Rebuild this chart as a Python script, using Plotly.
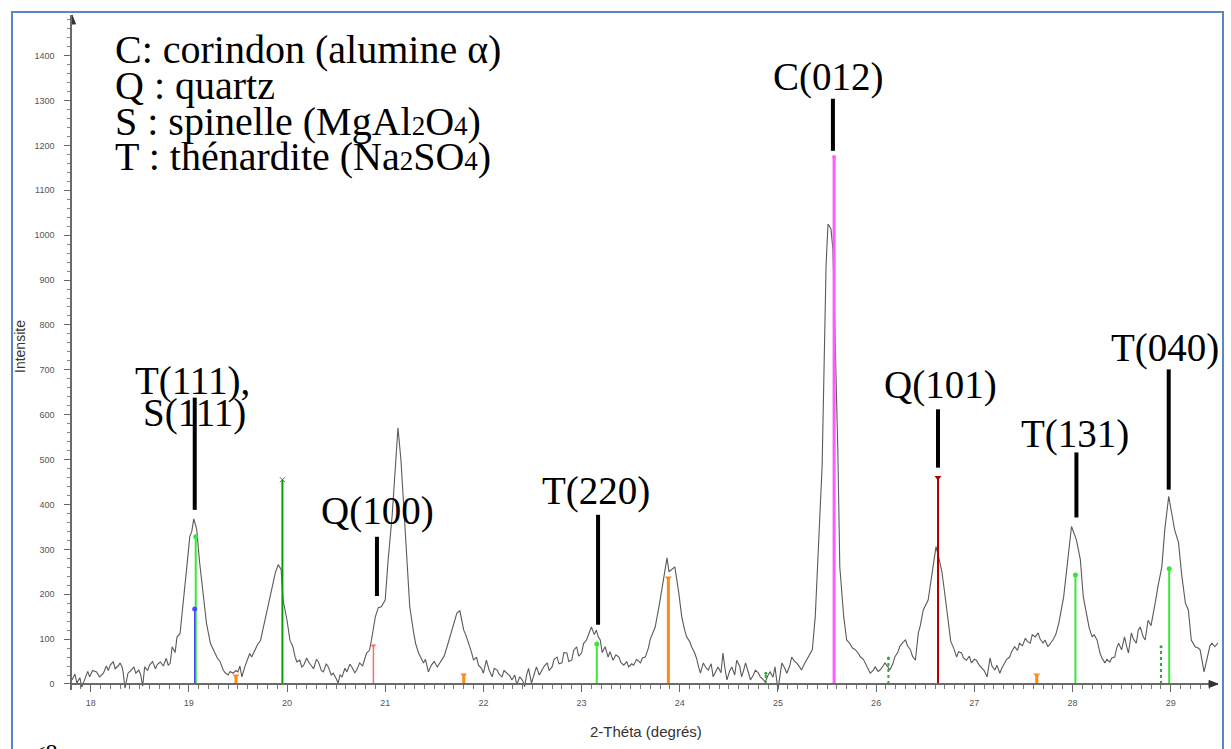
import plotly.graph_objects as go

# Diffractogram (2-theta in degrees, counts)
two_theta = [
    17.81, 17.84, 17.86, 17.89, 17.91, 17.94, 17.97, 17.99, 18.02, 18.06, 18.09, 18.13, 18.16, 18.18,
    18.20, 18.23, 18.25, 18.28, 18.30, 18.32, 18.33, 18.35, 18.37, 18.38, 18.41, 18.44, 18.46, 18.49,
    18.51, 18.53, 18.55, 18.58, 18.60, 18.63, 18.66, 18.68, 18.71, 18.74, 18.77, 18.79, 18.81, 18.83,
    18.86, 18.88, 18.91, 18.94, 18.98, 19.01, 19.03, 19.05, 19.08, 19.11, 19.15, 19.18, 19.22, 19.24,
    19.27, 19.29, 19.32, 19.35, 19.37, 19.40, 19.42, 19.45, 19.48, 19.50, 19.52, 19.54, 19.57, 19.59,
    19.62, 19.64, 19.67, 19.70, 19.73, 19.75, 19.78, 19.83, 19.88, 19.91, 19.94, 19.96, 20.00, 20.03,
    20.06, 20.08, 20.10, 20.13, 20.15, 20.17, 20.20, 20.22, 20.25, 20.27, 20.30, 20.32, 20.35, 20.37,
    20.40, 20.42, 20.45, 20.47, 20.50, 20.52, 20.54, 20.56, 20.59, 20.61, 20.64, 20.66, 20.69, 20.71,
    20.74, 20.77, 20.81, 20.84, 20.86, 20.90, 20.93, 20.96, 21.00, 21.03, 21.07, 21.10, 21.13, 21.16,
    21.19, 21.22, 21.25, 21.29, 21.31, 21.34, 21.36, 21.39, 21.41, 21.44, 21.47, 21.50, 21.53, 21.55,
    21.58, 21.60, 21.63, 21.68, 21.73, 21.76, 21.80, 21.82, 21.85, 21.88, 21.90, 21.93, 21.95, 21.98,
    22.00, 22.03, 22.06, 22.09, 22.11, 22.14, 22.16, 22.19, 22.21, 22.24, 22.27, 22.29, 22.32, 22.34,
    22.37, 22.40, 22.42, 22.44, 22.46, 22.49, 22.52, 22.54, 22.57, 22.59, 22.62, 22.65, 22.67, 22.70,
    22.72, 22.75, 22.77, 22.80, 22.82, 22.85, 22.87, 22.90, 22.92, 22.95, 22.97, 23.00, 23.02, 23.05,
    23.08, 23.10, 23.13, 23.15, 23.17, 23.19, 23.21, 23.24, 23.27, 23.29, 23.32, 23.35, 23.38, 23.40,
    23.43, 23.46, 23.48, 23.51, 23.53, 23.56, 23.60, 23.62, 23.65, 23.68, 23.70, 23.75, 23.80, 23.85,
    23.87, 23.89, 23.91, 23.95, 23.99, 24.02, 24.05, 24.07, 24.10, 24.12, 24.15, 24.17, 24.19, 24.21,
    24.24, 24.27, 24.29, 24.32, 24.34, 24.37, 24.39, 24.42, 24.44, 24.46, 24.48, 24.51, 24.53, 24.56,
    24.58, 24.61, 24.63, 24.65, 24.67, 24.70, 24.72, 24.75, 24.77, 24.80, 24.82, 24.85, 24.87, 24.90,
    24.92, 24.95, 24.97, 25.00, 25.02, 25.04, 25.07, 25.09, 25.12, 25.14, 25.17, 25.19, 25.22, 25.24,
    25.27, 25.29, 25.32, 25.35, 25.38, 25.41, 25.45, 25.47, 25.49, 25.51, 25.54, 25.56, 25.58, 25.61,
    25.63, 25.67, 25.70, 25.73, 25.76, 25.79, 25.82, 25.84, 25.87, 25.89, 25.92, 25.94, 25.97, 25.99,
    26.02, 26.04, 26.07, 26.09, 26.12, 26.14, 26.17, 26.19, 26.22, 26.24, 26.27, 26.30, 26.32, 26.35,
    26.37, 26.40, 26.43, 26.45, 26.48, 26.50, 26.53, 26.57, 26.61, 26.64, 26.67, 26.70, 26.73, 26.76,
    26.79, 26.82, 26.84, 26.87, 26.89, 26.92, 26.95, 26.97, 27.00, 27.02, 27.05, 27.07, 27.10, 27.13,
    27.16, 27.18, 27.21, 27.23, 27.26, 27.28, 27.31, 27.33, 27.36, 27.38, 27.41, 27.44, 27.46, 27.49,
    27.52, 27.54, 27.57, 27.59, 27.62, 27.65, 27.67, 27.70, 27.72, 27.75, 27.78, 27.80, 27.83, 27.86,
    27.91, 27.96, 27.99, 28.04, 28.08, 28.11, 28.14, 28.17, 28.20, 28.22, 28.25, 28.28, 28.30, 28.33,
    28.35, 28.38, 28.40, 28.43, 28.45, 28.47, 28.50, 28.53, 28.55, 28.57, 28.60, 28.62, 28.65, 28.67,
    28.69, 28.72, 28.74, 28.77, 28.80, 28.82, 28.85, 28.87, 28.91, 28.94, 28.98, 29.01, 29.04, 29.08,
    29.11, 29.15, 29.18, 29.21, 29.25, 29.28, 29.30, 29.34, 29.38, 29.40, 29.42, 29.45, 29.48,
]
intensity = [
    9, 22, 2, 14, -7, 9, 28, 16, 30, 27, 16, 24, 40, 30,
    42, 50, 34, 40, 47, 38, 27, -9, 10, 24, 30, 38, 24, 31,
    20, -5, 38, 30, 42, 50, 34, 44, 49, 40, 57, 42, 46, 83,
    70, 105, 112, 172, 262, 329, 340, 368, 345, 270, 195, 135, 90, 80,
    68, 58, 49, 31, 25, 20, 28, 24, 30, 27, 40, 16, 38, 52,
    68, 60, 75, 88, 97, 118, 142, 195, 247, 266, 255, 187, 142, 97,
    83, 62, 49, 53, 38, 42, 58, 49, 40, 34, 55, 49, 30, 27,
    45, 38, 20, 24, 12, 2, 20, 16, 35, 27, 44, 38, 25, 31,
    47, 40, 69, 75, 98, 150, 170, 172, 187, 277, 373, 485, 571, 500,
    388, 299, 172, 114, 90, 69, 60, 47, 55, 27, 42, 50, 38, 45,
    53, 62, 83, 120, 158, 163, 120, 110, 91, 70, 53, 60, 42, 35,
    24, 53, 30, 16, 35, 31, 22, 16, 30, 24, 18, 9, 20, -2,
    16, 8, -6, 20, 35, 2, 25, 38, 20, 27, 40, 47, 30, 38,
    55, 60, 45, 47, 70, 69, 50, 53, 75, 83, 62, 69, 90, 98,
    115, 127, 110, 120, 105, 98, 70, 83, 60, 72, 53, 65, 60, 48,
    42, 50, 38, 45, 42, 55, 47, 58, 60, 80, 100, 127, 187, 261,
    281, 250, 254, 261, 203, 150, 120, 105, 95, 83, 70, 58, 40, 24,
    47, 35, 31, 45, 16, 30, 38, 25, 69, 35, 9, 30, 38, 20,
    53, 40, 16, 30, 47, 25, 9, 20, 31, 25, 16, 10, 4, 20,
    27, 15, 38, -13, 20, 47, 35, 24, 40, 60, 50, 47, 38, 31,
    45, 53, 65, 76, 150, 299, 485, 708, 931, 1025, 1014, 969, 797, 522,
    261, 150, 98, 91, 80, 76, 68, 60, 55, 47, 35, 24, 30, 38,
    28, 31, 40, 47, 38, 31, 45, 60, 70, 83, 92, 98, 85, 76,
    62, 53, 114, 130, 165, 175, 187, 247, 306, 280, 250, 200, 140, 95,
    80, 60, 72, 69, 58, 53, 62, 47, 55, 53, 42, 38, 30, 16,
    58, 40, 31, 42, 24, 35, 47, 55, 60, 72, 83, 75, 91, 85,
    102, 95, 91, 110, 105, 114, 100, 91, 98, 83, 92, 98, 110, 135,
    194, 284, 351, 321, 277, 194, 158, 125, 105, 110, 98, 69, 58, 47,
    55, 49, 58, 60, 80, 91, 76, 105, 85, 69, 114, 100, 91, 120,
    127, 105, 98, 142, 130, 158, 190, 217, 261, 344, 418, 381, 344, 315,
    247, 180, 165, 98, 83, 80, 76, 27, 69, 85, 91, 83, 91,
]

# Reference patterns (stick positions and relative intensities)
thenardite_pos = [19.07, 23.155, 28.03, 28.985]
thenardite_int = [328, 89, 243, 257]
spinelle_pos = [19.06]
spinelle_int = [167]
corindon_pos = [25.572]
corindon_int = [1174]
quartz_pos = [20.88, 26.63]
quartz_int = [85, 460]
orange_pos = [19.48, 21.80, 23.884, 27.636]
orange_int = [18, 20, 236, 20]
green_pos = [19.953]
green_int = [455]
green_dot_pos = [24.876, 26.125, 28.902]
green_dot_int = [24, 58, 83]

# Peak labels
peak_labels = ["T(111),", "S(111)", "Q(100)", "T(220)", "C(012)", "Q(101)", "T(131)", "T(040)"]

SERIF = "Liberation Serif, Times New Roman, serif"
SANS = "Liberation Sans, Arial, sans-serif"

X_MIN, X_MAX = 17.81, 29.482
Y_MIN, Y_MAX = -13.4, 1490.6

fig = go.Figure()

fig.add_trace(go.Scatter(
    x=two_theta, y=intensity, mode="lines",
    line=dict(color="#5a5a5a", width=1.1), hoverinfo="skip",
))


def add_sticks(pos, val, color, width, dash="solid", symbol="circle", msize=5):
    xs, ys = [], []
    for p, v in zip(pos, val):
        xs += [p, p, None]
        ys += [0, v, None]
    fig.add_trace(go.Scatter(x=xs, y=ys, mode="lines",
                             line=dict(color=color, width=width, dash=dash),
                             hoverinfo="skip"))
    fig.add_trace(go.Scatter(x=pos, y=val, mode="markers",
                             marker=dict(color=color, size=msize, symbol=symbol),
                             hoverinfo="skip"))


add_sticks(thenardite_pos, thenardite_int, "#38e838", 2)
add_sticks(spinelle_pos, spinelle_int, "#4848ff", 1.5)
add_sticks(orange_pos, orange_int, "#ff8a1c", 3, symbol="triangle-down", msize=6)
add_sticks(green_pos, green_int, "#0a9a0a", 2, symbol="x-thin-open", msize=5)
add_sticks(green_dot_pos, green_dot_int, "#2aaa2a", 2, dash="dot", symbol="circle", msize=3)
add_sticks(corindon_pos, corindon_int, "#ff5cff", 3, msize=4)
# quartz: (100) reference drawn lighter, (101) darker
add_sticks(quartz_pos[:1], quartz_int[:1], "#ff6a6a", 1.5, symbol="triangle-down", msize=5)
add_sticks(quartz_pos[1:], quartz_int[1:], "#b40000", 2, symbol="triangle-down", msize=6)

# Leader lines from labels down to the peaks
leaders = [
    (19.06, 388, 638),
    (20.916, 196, 328),
    (23.168, 132, 377),
    (25.56, 1188, 1304),
    (26.63, 482, 612),
    (28.04, 371, 516),
    (28.98, 433, 701),
]
for lx, y0, y1 in leaders:
    fig.add_shape(type="line", x0=lx, x1=lx, y0=y0, y1=y1, xref="x", yref="y",
                  line=dict(color="black", width=4))

label_xy = [
    (19.04, 676), (19.06, 603), (20.917, 386), (23.148, 429),
    (25.511, 1353), (26.651, 667), (28.027, 558), (28.943, 748),
]
for txt, (tx, ty) in zip(peak_labels, label_xy):
    fig.add_annotation(x=tx, y=ty, xref="x", yref="y", text=txt, showarrow=False,
                       xanchor="center", yanchor="middle",
                       font=dict(family=SERIF, size=39, color="black"))

# Phase key (small inline digits for the formula indices)
SUB = '<span style="font-size:27px">{}</span>'
key_lines = [
    "C: corindon (alumine α)",
    "Q : quartz",
    "S : spinelle (MgAl" + SUB.format("2") + "O" + SUB.format("4") + ")",
    "T : thénardite (Na" + SUB.format("2") + "SO" + SUB.format("4") + ")",
]
PLOT_L, PLOT_W, PLOT_B, PLOT_H = 72, 1146, 690, 675


def px(xp):
    return (xp - PLOT_L) / PLOT_W


def py(yp):
    return (PLOT_B - yp) / PLOT_H


for i, line in enumerate(key_lines):
    fig.add_annotation(x=px(113), y=py(50 + 35.6 * i), xref="paper", yref="paper",
                       text=line, showarrow=False, xanchor="left", yanchor="middle",
                       font=dict(family=SERIF, size=40, color="black"))

# Axis titles
fig.add_annotation(x=px(20), y=py(347), xref="paper", yref="paper", text="Intensite",
                   textangle=-90, showarrow=False, xanchor="center", yanchor="middle",
                   font=dict(family=SANS, size=14, color="#333"))
fig.add_annotation(x=px(646), y=py(731), xref="paper", yref="paper", text="2-Théta (degrés)",
                   showarrow=False, xanchor="center", yanchor="middle",
                   font=dict(family=SANS, size=15, color="#333"))

# Axis arrow heads
ux = (X_MAX - X_MIN) / PLOT_W   # data units per pixel along x
uy = (Y_MAX - Y_MIN) / PLOT_H   # data units per pixel along y
fig.add_shape(type="path", xref="x", yref="y", fillcolor="#333", line=dict(color="#333", width=1),
              path=f"M {X_MAX} 0 L {X_MAX - 9 * ux} {3.5 * uy} L {X_MAX - 9 * ux} {-3.5 * uy} Z")
fig.add_shape(type="path", xref="x", yref="y", fillcolor="#333", line=dict(color="#333", width=1),
              path=f"M {X_MIN} {Y_MAX} L {X_MIN - 3.5 * ux} {Y_MAX - 9 * uy} "
                   f"L {X_MIN + 3.5 * ux} {Y_MAX - 9 * uy} Z")

# Page frame and caption stub
fig.add_shape(type="rect", xref="paper", yref="paper",
              x0=px(12), x1=px(1223), y0=py(770), y1=py(12),
              line=dict(color="#5a86c5", width=2), fillcolor="rgba(0,0,0,0)")
fig.add_annotation(x=px(30), y=py(737), xref="paper", yref="paper", text="<8",
                   showarrow=False, xanchor="left", yanchor="top",
                   font=dict(family=SERIF, size=24, color="black"))

fig.update_layout(
    width=1231, height=749,
    margin=dict(l=72, r=13, t=15, b=59),
    paper_bgcolor="white", plot_bgcolor="white",
    showlegend=False,
    xaxis=dict(
        range=[X_MIN, X_MAX], tick0=18, dtick=1,
        anchor="free", position=py(684),
        showline=True, linecolor="#6a6a6a", linewidth=2,
        ticks="outside", ticklen=7, tickwidth=1, tickcolor="#666",
        minor=dict(dtick=0.1, ticks="outside", ticklen=4, tickcolor="#777"),
        showgrid=False, zeroline=False,
        tickfont=dict(family=SANS, size=9, color="#555"),
        ticklabelstandoff=3,
    ),
    yaxis=dict(
        range=[Y_MIN, Y_MAX], tick0=0, dtick=100,
        showline=True, linecolor="#6a6a6a", linewidth=1.5,
        ticks="outside", ticklen=6, tickwidth=1, tickcolor="#666",
        minor=dict(dtick=20, ticks="outside", ticklen=3, tickcolor="#888"),
        showgrid=False, zeroline=False,
        tickfont=dict(family=SANS, size=9, color="#555"),
        ticklabelstandoff=8,
    ),
)

fig.write_html("out.html")
